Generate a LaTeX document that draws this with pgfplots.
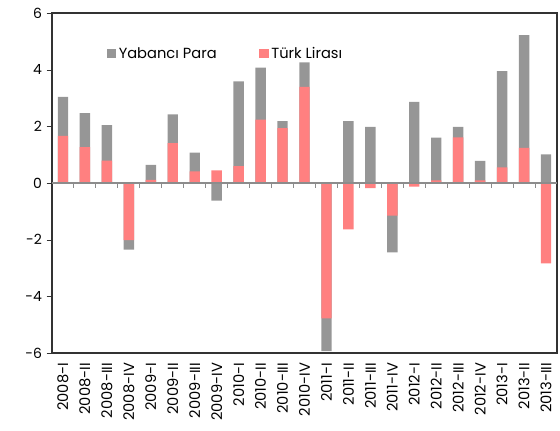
\documentclass[border=0pt]{standalone}
\usepackage{pgfplots}
\pgfplotsset{compat=1.18}
\usepackage{fontspec}
\setmainfont{Poppins}
\definecolor{yp}{HTML}{969696}
\definecolor{tl}{HTML}{FF8080}
\begin{document}
\begin{tikzpicture}
\useasboundingbox (-39pt,-57.75pt) rectangle (381pt,264.75pt);
\begin{axis}[
  scale only axis, width=378.75pt, height=255pt, at={(0,0)}, anchor=south west,
  xmin=-0.5, xmax=22.5, ymin=-6, ymax=6,
  ytick={-6,-4,...,6}, ytick pos=left, ytick align=outside,
  major tick length=4pt,
  xtick={0,...,22}, xtick style={draw=none},
  xticklabels={2008-I,2008-II,2008-III,2008-IV,2009-I,2009-II,2009-III,2009-IV,2010-I,2010-II,2010-III,2010-IV,2011-I,2011-II,2011-III,2011-IV,2012-I,2012-II,2012-III,2012-IV,2013-I,2013-II,2013-III},
  x tick label style={rotate=90, anchor=east, font=\fontsize{11}{12}\selectfont},
  y tick label style={font=\fontsize{10.5}{12}\selectfont},
  /pgf/number format/assume math mode=true,
  axis line style={black!80, line width=0.8pt},
  ytick style={black!80},
  ybar, bar width=7.8pt,
  legend style={at={(rel axis cs:0.1,0.88)}, anchor=west, draw=none, fill=none,
    legend columns=2, font=\fontsize{11}{12}\selectfont,
    /tikz/every even column/.append style={column sep=30pt}},
  legend image code/.code={\fill[#1] (0pt,-3.5pt) rectangle (7pt,3.5pt);},
]
% gray bar: outer end of the Yabanci Para segment
\addplot[fill=yp, draw=none, bar shift=0pt] coordinates {
(0,3.04) (1,2.47) (2,2.04) (3,-2.35) (4,0.64) (5,2.42) (6,1.07) (7,-0.62)
(8,3.59) (9,4.07) (10,2.18) (11,4.26) (12,-5.93) (13,2.18) (14,1.98) (15,-2.45)
(16,2.86) (17,1.60) (18,1.98) (19,0.78) (20,3.95) (21,5.22) (22,1.01)};
\addlegendentry{Yabancı Para}
% Turk Lirasi
\addplot[fill=tl, draw=none, bar shift=0pt] coordinates {
(0,1.66) (1,1.27) (2,0.79) (3,-2.02) (4,0.11) (5,1.41) (6,0.41) (7,0.45)
(8,0.60) (9,2.24) (10,1.94) (11,3.39) (12,-4.78) (13,-1.64) (14,-0.18) (15,-1.15)
(16,-0.13) (17,0.09) (18,1.61) (19,0.09) (20,0.55) (21,1.24) (22,-2.84)};
\addlegendentry{Türk Lirası}
\draw[black!45, line width=0.8pt] (axis cs:-0.5,0) -- (axis cs:22.5,0);
\pgfplotsinvokeforeach{0.5,1.5,...,21.5}{
  \draw[black!45, line width=0.8pt] (axis cs:#1,0) -- ++(0pt,-4pt);
}
\end{axis}
\end{tikzpicture}
\end{document}
